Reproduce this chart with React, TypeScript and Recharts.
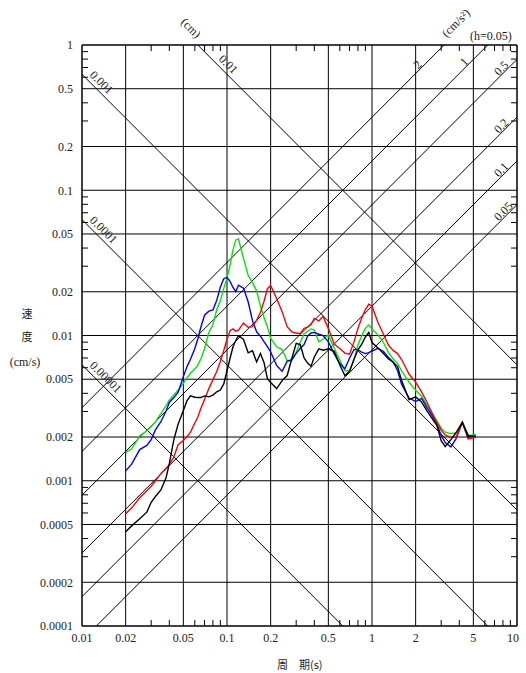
import React from "react";
import { ComposedChart, Line, XAxis, YAxis, ReferenceLine, ReferenceDot } from "recharts";

const SERIF = '"Liberation Serif", "DejaVu Serif", serif';
const CJK = '"Noto Sans CJK JP", sans-serif';
const INK = "#222";

// period (s)
const periods = [
  0.02, 0.022, 0.025, 0.028, 0.03, 0.032, 0.035, 0.038, 0.04, 0.043, 0.046, 0.05, 0.053, 0.056, 0.06,
  0.063, 0.066, 0.07, 0.075, 0.08, 0.085, 0.09, 0.095, 0.1, 0.105, 0.11, 0.115, 0.12, 0.13, 0.14, 0.15,
  0.16, 0.17, 0.18, 0.19, 0.2, 0.22, 0.24, 0.26, 0.28, 0.3, 0.32, 0.34, 0.36, 0.38, 0.4, 0.43, 0.46, 0.5,
  0.55, 0.6, 0.65, 0.7, 0.75, 0.8, 0.85, 0.9, 0.95, 1.0, 1.1, 1.2, 1.3, 1.4, 1.5, 1.6, 1.8, 2.0, 2.2, 2.4,
  2.6, 2.8, 3.0, 3.2, 3.5, 3.8, 4.2, 4.6, 5.2,
];

// velocity response (cm/s)
const greenSv = [
  0.00156, 0.00166, 0.00203, 0.00221, 0.00236, 0.00254, 0.0029, 0.00329, 0.00359, 0.00389,
  0.00421, 0.00469, 0.00513, 0.00549, 0.00587, 0.00628, 0.00689, 0.00811, 0.0105, 0.0119,
  0.0151, 0.0174, 0.0211, 0.0249, 0.0305, 0.0389, 0.0455, 0.0462, 0.0338, 0.0259,
  0.0231, 0.0203, 0.016, 0.0133, 0.0115, 0.00954, 0.00836, 0.008, 0.00668, 0.00675,
  0.00767, 0.00898, 0.0103, 0.0107, 0.0111, 0.0109, 0.00905, 0.00946, 0.0101, 0.00813,
  0.00678, 0.00574, 0.00569, 0.00679, 0.0086, 0.01, 0.0112, 0.0118, 0.0111, 0.0101,
  0.00895, 0.00763, 0.00689, 0.00643, 0.00571, 0.00477, 0.0042, 0.0038, 0.0033, 0.00292,
  0.00259, 0.0023, 0.00216, 0.00211, 0.00214, 0.00255, 0.00204, 0.00208,
];
const blueSv = [
  0.00117, 0.0013, 0.00164, 0.00175, 0.00192, 0.00223, 0.00255, 0.00302, 0.00346, 0.00374,
  0.00405, 0.00521, 0.00611, 0.00686, 0.00813, 0.00954, 0.0114, 0.0138, 0.0147, 0.015,
  0.0175, 0.0216, 0.0246, 0.0251, 0.0236, 0.0214, 0.0201, 0.0222, 0.0212, 0.017,
  0.0126, 0.0106, 0.0099, 0.00909, 0.00837, 0.0077, 0.00623, 0.00567, 0.00664, 0.00683,
  0.00754, 0.00813, 0.00867, 0.00994, 0.0104, 0.0105, 0.0102, 0.01, 0.00905, 0.00744,
  0.00641, 0.0059, 0.00698, 0.008, 0.008, 0.00767, 0.00751, 0.00762, 0.00782, 0.00817,
  0.00776, 0.00707, 0.00656, 0.00574, 0.00461, 0.00371, 0.00351, 0.00369, 0.00317, 0.00281,
  0.00245, 0.00206, 0.00183, 0.00171, 0.00195, 0.00252, 0.00206, 0.00199,
];
const redSv = [
  0.000592, 0.000651, 0.000763, 0.000853, 0.000916, 0.000995, 0.00112, 0.00122, 0.00129, 0.00146,
  0.00177, 0.00189, 0.00201, 0.00216, 0.0025, 0.00276, 0.00314, 0.00362, 0.00431, 0.00497,
  0.00565, 0.00662, 0.00788, 0.00943, 0.0108, 0.0111, 0.0107, 0.0109, 0.0122, 0.0114,
  0.0115, 0.0127, 0.0144, 0.0172, 0.021, 0.0221, 0.018, 0.0146, 0.0115, 0.0106,
  0.0104, 0.0103, 0.0112, 0.0114, 0.0119, 0.0131, 0.0126, 0.0135, 0.0112, 0.00871,
  0.00813, 0.00757, 0.00743, 0.009, 0.0112, 0.0132, 0.0151, 0.0164, 0.0159, 0.0123,
  0.0102, 0.00856, 0.0079, 0.00751, 0.00683, 0.00543, 0.00478, 0.00407, 0.00346, 0.00291,
  0.00252, 0.00223, 0.00207, 0.00199, 0.00199, 0.00252, 0.00194, 0.00199,
];
const blackSv = [
  0.000445, 0.000489, 0.000547, 0.000608, 0.000711, 0.000776, 0.000864, 0.00105, 0.00131, 0.00192,
  0.00245, 0.00305, 0.00356, 0.00384, 0.00376, 0.00374, 0.00374, 0.00384, 0.00378, 0.00389,
  0.0041, 0.00421, 0.00464, 0.00572, 0.00697, 0.00837, 0.00924, 0.01, 0.0094, 0.0076,
  0.00786, 0.00657, 0.00751, 0.00651, 0.00505, 0.00474, 0.00431, 0.00489, 0.0053, 0.00694,
  0.00884, 0.00867, 0.007, 0.00646, 0.00615, 0.00711, 0.0081, 0.00792, 0.0081, 0.00776,
  0.00626, 0.0053, 0.00567, 0.00683, 0.00798, 0.00871, 0.00977, 0.0105, 0.00895, 0.00819,
  0.00751, 0.00689, 0.00654, 0.00611, 0.00489, 0.00362, 0.00378, 0.00348, 0.00302, 0.00268,
  0.00241, 0.00189, 0.00172, 0.00192, 0.00214, 0.00252, 0.002, 0.00204,
];

const xTicks = [0.01, 0.02, 0.05, 0.1, 0.2, 0.5, 1, 2, 5, 10];
const yTicks = [0.0001, 0.0002, 0.0005, 0.001, 0.002, 0.005, 0.01, 0.02, 0.05, 0.1, 0.2, 0.5, 1];
const gridX = [0.02, 0.05, 0.1, 0.2, 0.5, 1, 2, 5];
const gridY = [0.0002, 0.0005, 0.001, 0.002, 0.005, 0.01, 0.02, 0.05, 0.1, 0.2, 0.5];
const minorX = [0.03, 0.04, 0.06, 0.07, 0.08, 0.09, 0.3, 0.4, 0.6, 0.7, 0.8, 0.9, 3, 4, 6, 7, 8, 9];
const minorY = [
  0.0003, 0.0004, 0.0006, 0.0007, 0.0008, 0.0009, 0.003, 0.004, 0.006, 0.007, 0.008, 0.009,
  0.03, 0.04, 0.06, 0.07, 0.08, 0.09, 0.3, 0.4, 0.6, 0.7, 0.8, 0.9,
];

// tripartite lines: displacement (cm) and acceleration (cm/s2)
const dispValues = [0.01, 0.001, 0.0001, 0.00001];
const dispNames = ["0.01", "0.001", "0.0001", "0.00001"];
const dispLabelT = [0.083, 0.0107, 0.0107, 0.0107];
const accValues = [2, 1, 0.5, 0.2, 0.1, 0.05];
const accLabelT = [2.11, 4.41, 7.57, 7.57, 7.57, 7.57];

const X_MIN = 0.01, X_MAX = 10, Y_MIN = 0.0001, Y_MAX = 1;
const TWO_PI = 2 * Math.PI;
// minor tick length: ~6px on a 145px decade
const TICK_F = Math.pow(10, 6 / 145);

const dispSv = (d: number, t: number) => (TWO_PI * d) / t;
const accSv = (a: number, t: number) => (a * t) / TWO_PI;

const dispSegment = (d: number) => {
  const t0 = Math.max(X_MIN, (TWO_PI * d) / Y_MAX);
  const t1 = Math.min(X_MAX, (TWO_PI * d) / Y_MIN);
  return [{ x: t0, y: dispSv(d, t0) }, { x: t1, y: dispSv(d, t1) }];
};
const accSegment = (a: number) => {
  const t0 = Math.max(X_MIN, (TWO_PI * Y_MIN) / a);
  const t1 = Math.min(X_MAX, (TWO_PI * Y_MAX) / a);
  return [{ x: t0, y: accSv(a, t0) }, { x: t1, y: accSv(a, t1) }];
};

const minorSegments = [
  ...minorX.map((v) => [{ x: v, y: Y_MIN }, { x: v, y: Y_MIN * TICK_F }]),
  ...minorX.map((v) => [{ x: v, y: Y_MAX }, { x: v, y: Y_MAX / TICK_F }]),
  ...minorY.map((v) => [{ x: X_MIN, y: v }, { x: X_MIN * TICK_F, y: v }]),
  ...minorY.map((v) => [{ x: X_MAX, y: v }, { x: X_MAX / TICK_F, y: v }]),
];

const rows = periods.map((t, i) => ({
  t,
  green: greenSv[i],
  blue: blueSv[i],
  red: redSv[i],
  black: blackSv[i],
}));

const rotLabel = (text: string, angle: number, dy: number) => (p: any) => (
  <text
    x={p.cx}
    y={p.cy}
    dy={dy}
    transform={`rotate(${angle} ${p.cx} ${p.cy})`}
    fontSize={12}
    fontFamily={SERIF}
    fill={INK}
  >
    {text}
  </text>
);

// bottom tick: last label kept inside the frame
const PeriodTick = (p: any) => {
  const last = p.payload.value === X_MAX;
  return (
    <text
      x={last ? p.x + 2 : p.x}
      y={p.y}
      dy="0.71em"
      textAnchor={last ? "end" : "middle"}
      fontSize={12}
      fontFamily={SERIF}
      fill={INK}
    >
      {String(p.payload.value)}
    </text>
  );
};

const fmt = (v: number) => String(v);
const tickStyle = { fontSize: 12, fill: INK, fontFamily: SERIF };

export default function App() {
  return (
    <div style={{ position: "absolute", left: 0, top: 0, width: 526, height: 673, background: "#fff" }}>
      <ComposedChart width={526} height={673} data={rows} margin={{ top: 45, right: 9, bottom: 0, left: 0 }}>
        <XAxis
          dataKey="t"
          type="number"
          scale="log"
          domain={[X_MIN, X_MAX]}
          allowDataOverflow
          ticks={xTicks}
          interval={0}
          height={47}
          tickLine={false}
          tickSize={0}
          tickMargin={7}
          axisLine={{ stroke: "#000", strokeWidth: 1.5 }}
          tick={<PeriodTick />}
        />
        <YAxis
          type="number"
          scale="log"
          domain={[Y_MIN, Y_MAX]}
          allowDataOverflow
          ticks={yTicks}
          interval={0}
          tickFormatter={fmt}
          width={82}
          tickLine={false}
          tickSize={0}
          tickMargin={9}
          axisLine={{ stroke: "#000", strokeWidth: 1.5 }}
          tick={tickStyle}
        />

        {gridX.map((v) => (
          <ReferenceLine key={"gx" + v} x={v} stroke="#000" strokeWidth={1} ifOverflow="hidden" />
        ))}
        {gridY.map((v) => (
          <ReferenceLine key={"gy" + v} y={v} stroke="#000" strokeWidth={1} ifOverflow="hidden" />
        ))}
        <ReferenceLine y={Y_MAX} stroke="#000" strokeWidth={1.5} ifOverflow="visible" />
        <ReferenceLine x={X_MAX} stroke="#000" strokeWidth={1.5} ifOverflow="visible" />
        {minorSegments.map((s, i) => (
          <ReferenceLine key={"m" + i} segment={s} stroke="#000" strokeWidth={1} ifOverflow="visible" />
        ))}
        {dispValues.map((d) => (
          <ReferenceLine key={"d" + d} segment={dispSegment(d)} stroke="#000" strokeWidth={1} ifOverflow="hidden" />
        ))}
        {accValues.map((a) => (
          <ReferenceLine key={"a" + a} segment={accSegment(a)} stroke="#000" strokeWidth={1} ifOverflow="hidden" />
        ))}
        {dispValues.map((d, i) => (
          <ReferenceDot
            key={"dl" + d}
            x={dispLabelT[i]}
            y={dispSv(d, dispLabelT[i])}
            r={0}
            ifOverflow="visible"
            shape={rotLabel(dispNames[i], 45, -4)}
          />
        ))}
        {accValues.map((a, i) => (
          <ReferenceDot
            key={"al" + a}
            x={accLabelT[i]}
            y={accSv(a, accLabelT[i])}
            r={0}
            ifOverflow="visible"
            shape={rotLabel(String(a), -45, -1)}
          />
        ))}

        <Line dataKey="green" stroke="#00e600" strokeWidth={1.4} dot={false} activeDot={false} isAnimationActive={false} />
        <Line dataKey="blue" stroke="#0000ff" strokeWidth={1.4} dot={false} activeDot={false} isAnimationActive={false} />
        <Line dataKey="red" stroke="#ff0000" strokeWidth={1.4} dot={false} activeDot={false} isAnimationActive={false} />
        <Line dataKey="black" stroke="#000000" strokeWidth={1.4} dot={false} activeDot={false} isAnimationActive={false} />
      </ComposedChart>

      <svg width={526} height={673} style={{ position: "absolute", left: 0, top: 0, pointerEvents: "none" }}>
        <text x={191} y={28} transform="rotate(45 191 28)" textAnchor="middle" dominantBaseline="central" fontSize={12} fontFamily={SERIF} fill={INK}>
          (cm)
        </text>
        <text x={456} y={23} transform="rotate(-45 456 23)" textAnchor="middle" dominantBaseline="central" fontSize={12} fontFamily={SERIF} fill={INK}>
          (cm/s²)
        </text>
        <text x={491} y={40} textAnchor="middle" fontSize={12} fontFamily={SERIF} fill={INK}>
          (h=0.05)
        </text>
        <text x={27} y={318} textAnchor="middle" fontSize={11} fontFamily={CJK} fill={INK}>速</text>
        <text x={27} y={341} textAnchor="middle" fontSize={11} fontFamily={CJK} fill={INK}>度</text>
        <text x={25} y={366} textAnchor="middle" fontSize={12} fontFamily={SERIF} fill={INK}>(cm/s)</text>
        <text x={277} y={669} fontSize={11} fontFamily={CJK} fill={INK}>周　期(s)</text>
      </svg>
    </div>
  );
}
